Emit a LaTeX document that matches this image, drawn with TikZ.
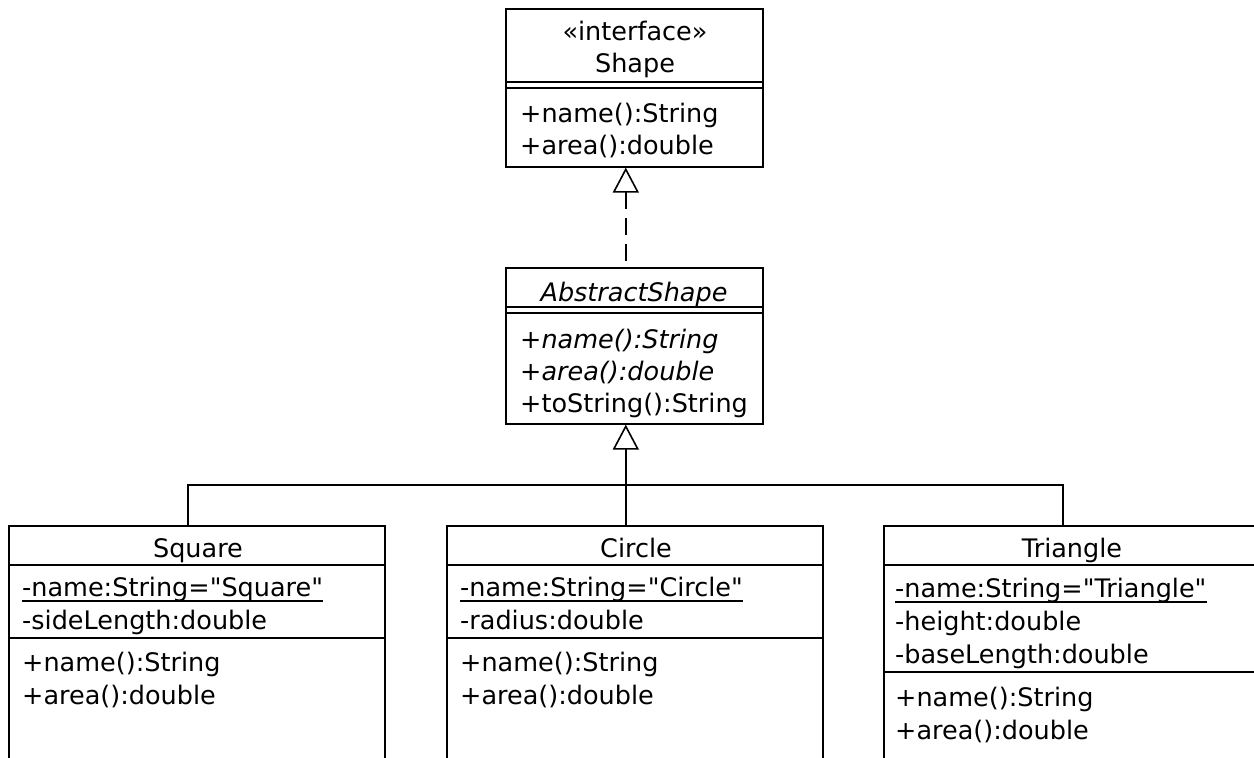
\documentclass[tikz,border=0pt]{standalone}
\usepackage{fontspec}
\setmainfont{DejaVu Sans}
\usetikzlibrary{arrows.meta}
\newcommand{\dq}{\textquotedbl}
\begin{document}
\begin{tikzpicture}[x=1pt,y=-1pt,
  box/.style={draw, line width=1.6pt, rectangle, inner sep=0pt, anchor=north west},
  txt/.style={inner sep=0pt, anchor=base west, font=\fontsize{25.5}{32}\selectfont},
  ttl/.style={inner sep=0pt, anchor=base, font=\fontsize{25.5}{32}\selectfont},
  sep/.style={line width=1.6pt},
  uline/.style={line width=1.3pt},
  conn/.style={line width=1.6pt},
  gen/.style={conn, -{Triangle[open, length=25pt, width=26pt, fill=white]}},
  real/.style={conn, {Triangle[open, length=25pt, width=26pt, fill=white]}-, dash pattern=on 17pt off 9pt}]
\clip (0,0) rectangle (1254,758);
\fill[white] (0,0) rectangle (1254,758);

% ---- Shape (interface)
\node[box, minimum width=257pt, minimum height=158pt] (shape) at (505,8) {};
\node[ttl] (shapeS) at (635,40) {«interface»};
\node[ttl] (shapeN) at (635,72) {Shape};
\draw[sep] (505,82) -- (762,82);
\draw[sep] (505,88) -- (762,88);
\node[txt] (shapeM1) at (520,122) {+name():String};
\node[txt] (shapeM2) at (520,154) {+area():double};

% ---- AbstractShape
\node[box, minimum width=257pt, minimum height=156pt] (abs) at (505,267) {};
\node[ttl] (absN) at (634,301) {\itshape AbstractShape};
\draw[sep] (505,307) -- (762,307);
\draw[sep] (505,313) -- (762,313);
\node[txt] (absM1) at (520,348) {\itshape +name():String};
\node[txt] (absM2) at (520,380) {\itshape +area():double};
\node[txt] (absM3) at (520,412) {+toString():String};

% ---- Square
\node[box, minimum width=376pt, minimum height=300pt] (sq) at (8,525) {};
\node[ttl] (sqN) at (198,557) {Square};
\draw[sep] (8,565) -- (384,565);
\node[txt] (sqA1) at (22,596) {-name:String=\dq Square\dq};
\draw[uline] ([yshift=-5pt]sqA1.base west) -- ([yshift=-5pt]sqA1.base east);
\node[txt] (sqA2) at (22,629) {-sideLength:double};
\draw[sep] (8,638) -- (384,638);
\node[txt] (sqM1) at (22,671) {+name():String};
\node[txt] (sqM2) at (22,704) {+area():double};

% ---- Circle
\node[box, minimum width=376pt, minimum height=300pt] (circ) at (446,525) {};
\node[ttl] (cirN) at (636,557) {Circle};
\draw[sep] (446,565) -- (822,565);
\node[txt] (cirA1) at (460,596) {-name:String=\dq Circle\dq};
\draw[uline] ([yshift=-5pt]cirA1.base west) -- ([yshift=-5pt]cirA1.base east);
\node[txt] (cirA2) at (460,629) {-radius:double};
\draw[sep] (446,638) -- (822,638);
\node[txt] (cirM1) at (460,671) {+name():String};
\node[txt] (cirM2) at (460,704) {+area():double};

% ---- Triangle
\node[box, minimum width=376pt, minimum height=300pt] (tri) at (883,525) {};
\node[ttl] (triN) at (1072,557) {Triangle};
\draw[sep] (883,565) -- (1259,565);
\node[txt] (triA1) at (895,597) {-name:String=\dq Triangle\dq};
\draw[uline] ([yshift=-5pt]triA1.base west) -- ([yshift=-5pt]triA1.base east);
\node[txt] (triA2) at (895,630) {-height:double};
\node[txt] (triA3) at (895,663) {-baseLength:double};
\draw[sep] (883,672) -- (1259,672);
\node[txt] (triM1) at (895,706) {+name():String};
\node[txt] (triM2) at (895,739) {+area():double};

% ---- connectors
\draw[real] ([xshift=-8.5pt]shape.south) -- ([xshift=-8.5pt]abs.north);
\coordinate (j) at (625,485);
\draw[conn] ([xshift=-9pt]sq.north) |- (j) -| ([xshift=-9pt]tri.north);
\draw[gen] ([xshift=-9pt]circ.north) -- ([xshift=-8.5pt]abs.south);
\end{tikzpicture}
\end{document}
